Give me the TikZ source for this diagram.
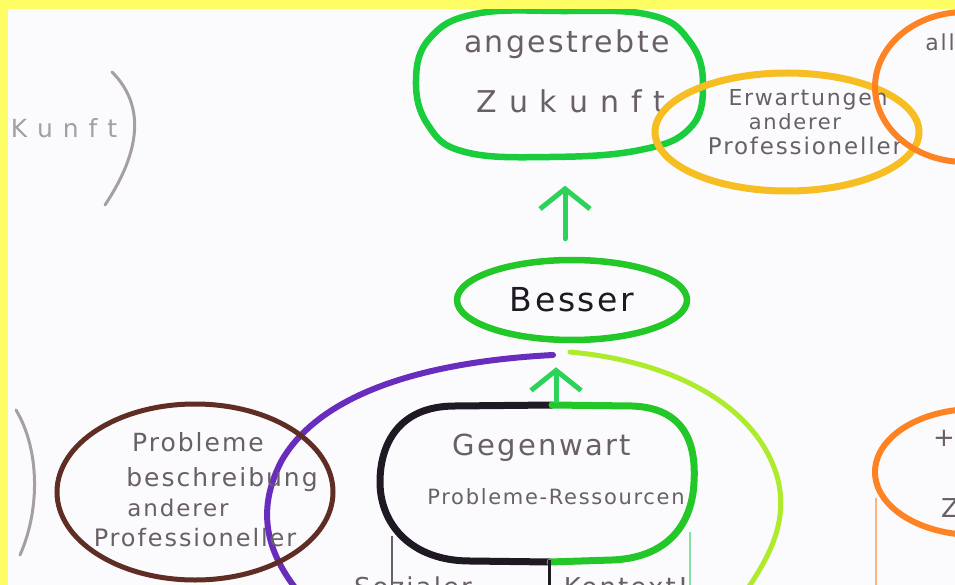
\documentclass[tikz,border=0pt]{standalone}
\usepackage{fontspec}
\setmainfont{DejaVu Sans}
\newfontfamily\hand[LetterSpace=8]{DejaVu Sans}
\usetikzlibrary{shapes.geometric,arrows.meta}

\definecolor{paper}{RGB}{251,251,253}
\definecolor{frame}{RGB}{255,253,100}
\definecolor{zgreen}{RGB}{25,205,60}
\definecolor{bgreen}{RGB}{35,200,40}
\definecolor{agreen}{RGB}{45,210,90}
\definecolor{ygold}{RGB}{247,190,35}
\definecolor{orng}{RGB}{255,130,35}
\definecolor{brwn}{RGB}{95,45,35}
\definecolor{purp}{RGB}{105,45,190}
\definecolor{lime}{RGB}{175,235,45}
\definecolor{ink}{RGB}{105,95,105}
\definecolor{faint}{RGB}{165,158,165}
\definecolor{pen}{RGB}{30,25,35}

\newcommand\fsz[1]{\fontsize{#1}{#1}\selectfont}

\tikzset{
  txt/.style={inner sep=0pt, text=ink, font=\hand\fsz{#1}},
  ring/.style={ellipse, inner sep=0pt, line width=#1},
  upar/.style={agreen, line width=5pt, line cap=round,
    -{Straight Barb[length=20pt,width=50pt,line width=5pt]}},
}

\begin{document}
\begin{tikzpicture}[x=1pt,y=-1pt]
\useasboundingbox (0,0) rectangle (955,585);
\clip (0,0) rectangle (955,585);
\fill[paper] (0,0) rectangle (955,585);

% left margin remnants
\node[txt=25, text=faint] (kunft) at (64,128) {K u n f t};
\draw[faint, line width=3pt, line cap=round]
  (112,72) .. controls (150,110) and (135,160) .. (105,205);
\draw[faint, line width=3pt, line cap=round]
  (16,410) .. controls (40,450) and (40,510) .. (20,555);

% goal: angestrebte Zukunft
\node[minimum width=285pt, minimum height=145pt] (zukunft) at (560,85) {};
\draw[zgreen, line width=6.5pt] plot[smooth cycle, tension=0.7] coordinates
  {(475,14) (560,11) (650,15) (690,42) (703,85) (690,128) (640,150)
   (550,157) (465,152) (428,125) (416,80) (430,38)};
\node[txt=30] (t1) at (567,44) {angestrebte};
\node[txt=30] (t2) at (571,101) {Z u k u n f t};

% expectations of other professionals
\node[ring=7pt, draw=ygold, minimum width=264pt, minimum height=118pt] (erw) at (787,132) {};
\node[txt=22] (e1) at (808,100) {Erwartungen};
\node[txt=21] (e2) at (795,122) {anderer};
\node[txt=23] (e3) at (805,146) {Professioneller};

% top right cluster
\node[ring=6pt, draw=orng, minimum width=180pt, minimum height=150pt] (allg) at (965,87) {};
\node[txt=22] (a1) at (940,42) {all};

% Besser
\node[ring=6.5pt, draw=bgreen, minimum width=230pt, minimum height=80pt,
      text=pen, font=\hand\fsz{33}] (besser) at (572,300) {Besser};
\coordinate (ax1) at (565,0);
\draw[upar, shorten <=18pt, shorten >=28pt] (besser.north -| ax1) -- (zukunft.south -| ax1);

% branches out of Besser
\draw[purp, line width=6pt, line cap=round]
  (553,355) .. controls (420,362) and (320,395) .. (282,460)
  .. controls (250,520) and (275,565) .. (305,600);
\draw[lime, line width=5pt, line cap=round]
  (570,352) .. controls (680,362) and (760,410) .. (778,480)
  .. controls (790,530) and (760,570) .. (740,600);

% present: Gegenwart
\node[minimum width=316pt, minimum height=158pt] (gegen) at (537,483) {};
\draw[pen, line width=7pt, line cap=round]
  (552,405) -- (455,406) .. controls (398,406) and (380,445) .. (380,482)
  .. controls (380,525) and (412,561) .. (470,561) -- (550,562);
\draw[bgreen, line width=7pt, line cap=round]
  (552,405) -- (632,406) .. controls (688,408) and (696,448) .. (694,482)
  .. controls (692,528) and (664,558) .. (612,560) -- (550,562);
\node[txt=29] (g1) at (542,448) {Gegenwart};
\node[txt=21] (g2) at (556,497) {Probleme-Ressourcen};
\coordinate (ax2) at (556,0);
\draw[upar, shorten <=3pt, shorten >=24pt] (gegen.north -| ax2) -- (besser.south -| ax2);

% strokes leading further down
\draw[ink, line width=2pt] (392,536) -- (392,585);
\draw[pen, line width=3pt] (549,560) -- (549,585);
\draw[agreen!60, line width=1.5pt] (690,532) -- (690,585);
\node[txt=26, anchor=base] (s1) at (413,596) {Sozialer};
\node[txt=26, anchor=base] (s2) at (626,596) {Kontext!};

% problem description of other professionals
\node[ring=5pt, draw=brwn, minimum width=276pt, minimum height=176pt] (prob) at (195,492) {};
\node[txt=25] (p1) at (198,442) {Probleme};
\node[txt=25] (p2) at (222,480) {beschreibung};
\node[txt=23] (p3) at (178,508) {anderer};
\node[txt=24] (p4) at (195,538) {Professioneller};

% bottom right cluster
\node[ring=6pt, draw=orng, minimum width=200pt, minimum height=126pt] (rb) at (975,472) {};
\draw[orng!60, line width=2pt] (876,498) -- (876,585);
\node[txt=26] (r1) at (944,438) {+};
\node[txt=26] (r2) at (950,508) {Z};

% yellow frame on top and left
\fill[frame] (0,0) rectangle (955,9);
\fill[frame] (0,0) rectangle (8,585);
\end{tikzpicture}
\end{document}
